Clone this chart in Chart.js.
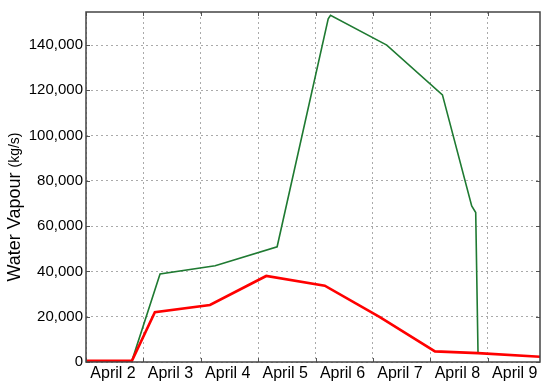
<!DOCTYPE html>
<html>
<head>
<meta charset="utf-8">
<script src="https://cdn.jsdelivr.net/npm/chart.js@4/dist/chart.umd.min.js"></script>
<style>
  html, body { margin: 0; padding: 0; background: #fff; }
  #wrap { width: 550px; height: 388px; }
</style>
</head>
<body>
<div id="wrap"><canvas id="myChart" width="550" height="388"></canvas></div>
<script>
// days since April 2, 00:00
const dayLabels = ['April 2', 'April 3', 'April 4', 'April 5', 'April 6', 'April 7', 'April 8', 'April 9'];

const redDays   = [0,   0.80, 1.20,  2.16,  3.14,  4.16,  5.12,  6.08, 6.83, 7.91];
const redValues = [500, 500,  22000, 25200, 38000, 33700, 19800, 4700, 3900, 2300];

const greenDays   = [0,   0.80, 1.29,  2.25,  3.33,  4.22,   4.26,   5.24,   6.21,   6.72,  6.79,  6.83];
const greenValues = [500, 500,  38900, 42500, 50900, 151600, 153100, 140000, 118000, 68900, 66000, 4000];

const yTicks = [0, 20000, 40000, 60000, 80000, 100000, 120000, 140000];

const toPoints = (xs, ys) => xs.map((x, i) => ({x: x, y: ys[i]}));

const FONT = "'Liberation Sans', Arial, Helvetica, sans-serif";

// frame round the plot + little inner tick marks + two-size y title
const framePlugin = {
  id: 'frame',
  afterDraw(chart) {
    const {ctx, chartArea: a, scales} = chart;
    ctx.save();
    ctx.strokeStyle = '#555';
    ctx.lineWidth = 1;
    ctx.beginPath();
    scales.y.ticks.forEach(t => {
      const py = Math.round(scales.y.getPixelForValue(t.value)) + 0.5;
      ctx.moveTo(a.left, py); ctx.lineTo(a.left + 4, py);
      ctx.moveTo(a.right, py); ctx.lineTo(a.right - 4, py);
    });
    scales.x.ticks.forEach(t => {
      const px = Math.round(scales.x.getPixelForValue(t.value)) + 0.5;
      ctx.moveTo(px, a.bottom); ctx.lineTo(px, a.bottom - 4);
      ctx.moveTo(px, a.top); ctx.lineTo(px, a.top + 4);
    });
    ctx.stroke();
    ctx.strokeStyle = '#444';
    ctx.lineWidth = 1.5;
    ctx.strokeRect(a.left, a.top, a.right - a.left, a.bottom - a.top);

    // y title
    const big = '18px ' + FONT, small = '14px ' + FONT;
    const t1 = 'Water Vapour ', t2 = '(kg/s)';
    ctx.font = big; const w1 = ctx.measureText(t1).width;
    ctx.font = small; const w2 = ctx.measureText(t2).width;
    const cy = (a.top + a.bottom) / 2 + 20;
    ctx.translate(15, cy);
    ctx.rotate(-Math.PI / 2);
    ctx.fillStyle = '#000';
    ctx.textBaseline = 'middle';
    ctx.textAlign = 'left';
    ctx.font = big;
    ctx.fillText(t1, -(w1 + w2) / 2, 0);
    ctx.font = small;
    ctx.fillText(t2, -(w1 + w2) / 2 + w1, 0);
    ctx.restore();
  }
};

const config = {
  type: 'line',
  data: {
    datasets: [{
      label: 'red',
      data: toPoints(redDays, redValues),
      borderColor: '#ff0000',
      borderWidth: 2.6,
      pointRadius: 0,
      tension: 0
    }, {
      label: 'green',
      data: toPoints(greenDays, greenValues),
      borderColor: '#1f7a32',
      borderWidth: 1.6,
      pointRadius: 0,
      tension: 0
    }]
  },
  options: {
    responsive: false,
    animation: false,
    devicePixelRatio: 1,
    layout: { padding: { top: 10, right: 10, left: 0, bottom: 0 } },
    plugins: {
      legend: { display: false },
      tooltip: { enabled: false },
      title: { display: false }
    },
    scales: {
      x: {
        type: 'linear',
        min: 0,
        max: 7.91,
        afterFit: (scale) => { scale.height = 26; },
        afterBuildTicks: (scale) => {
          scale.ticks = dayLabels.map((d, i) => ({value: i}));
        },
        ticks: {
          color: '#000',
          font: { family: FONT, size: 16 },
          padding: 2,
          labelOffset: 27,
          maxRotation: 0,
          autoSkip: false,
          callback: (val) => dayLabels[val] || ''
        },
        grid: { color: '#aaa', lineWidth: 1, drawTicks: false },
        border: { display: false, dash: [2, 3] }
      },
      y: {
        min: 0,
        max: 154600,
        afterFit: (scale) => { scale.width = 86; },
        afterBuildTicks: (scale) => {
          scale.ticks = yTicks.map(v => ({value: v}));
        },
        ticks: {
          color: '#000',
          font: { family: FONT, size: 15 },
          padding: 3,
          callback: (val) => val.toLocaleString('en-US')
        },
        grid: { color: '#aaa', lineWidth: 1, drawTicks: false },
        border: { display: false, dash: [2, 3] }
      }
    }
  },
  plugins: [framePlugin]
};

var ctx = document.getElementById('myChart').getContext('2d');
var myChart = new Chart(ctx, config);
</script>
</body>
</html>
